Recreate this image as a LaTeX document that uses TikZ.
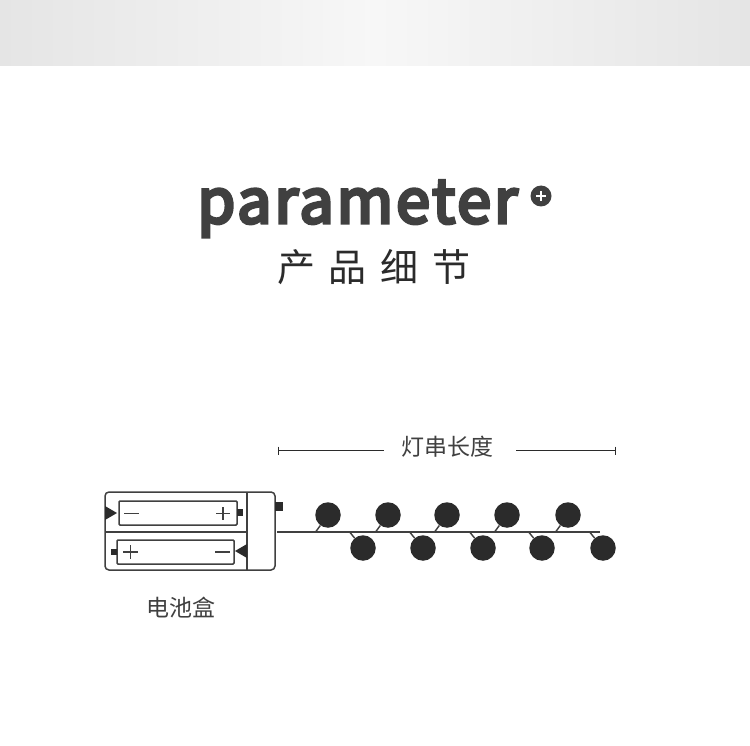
\documentclass[tikz,border=0pt]{standalone}
\usepackage{fontspec}
\usetikzlibrary{calc}
\newfontfamily\cjk{Noto Sans CJK SC}
\newfontfamily\cjkmed[FakeBold=5.5,LetterSpace=4.8]{Noto Sans CJK SC}
\definecolor{ink}{HTML}{2B2B2B}
\definecolor{txt}{HTML}{404040}
\definecolor{band}{HTML}{E5E5E5}
\definecolor{bandmid}{HTML}{F7F7F7}
\tikzset{
  bulb/.style={circle,fill=ink,draw=none,minimum size=25.5pt,inner sep=0pt},
  wire/.style={draw=ink!90,line width=1.4pt},
  boxline/.style={draw=ink!90,line width=1.5pt},
  signline/.style={draw=txt,line width=1.7pt},
  solidink/.style={fill=ink,draw=none},
  dim/.style={draw=ink,line width=1pt},
  lab/.style={text=txt,inner sep=0pt,font=\cjk\fontsize{23}{23}\selectfont}
}
\begin{document}
\begin{tikzpicture}[x=1pt,y=-1pt]
\useasboundingbox (0,0) rectangle (750,746);
\fill[white] (0,0) rectangle (750,746);
\shade[left color=band,right color=band,middle color=bandmid] (0,0) rectangle (750,66);
% title
\node[inner sep=0pt,anchor=base,text=txt] (title) at (357.5,223) {\cjkmed\fontsize{61}{61}\selectfont parameter};
\node[circle,fill=txt,minimum size=21pt,inner sep=0pt] (plusdot) at (541,196) {};
\fill[white] (536,194.8) rectangle (546,197.2);
\fill[white] (539.8,191) rectangle (542.2,201);
\node[inner sep=0pt,anchor=base,text=ink] (sub) at (374,281) {\cjk\fontsize{38}{38}\selectfont 产\hspace{14pt}品\hspace{14pt}细\hspace{14pt}节};
% dimension
\node[lab,anchor=base] (len) at (447,455) {灯串长度};
\coordinate (dl) at (278,450.5);
\coordinate (dr) at (615,450.5);
\coordinate (dli) at (384,450.5);
\coordinate (dri) at (516,450.5);
\draw[dim] (dl) -- (dli);
\draw[dim] (dri) -- (dr);
\draw[dim] (278,446.5) -- (278,454.5);
\draw[dim] (615,446.5) -- (615,454.5);
% battery box
\draw[boxline,rounded corners=4pt] (105,492) rectangle (275,570);
\draw[boxline] (247,492) -- (247,570);
\draw[boxline] (105,532) -- (247,532);
\draw[boxline,rounded corners=1pt] (119,501) rectangle (237,525);
\draw[boxline,rounded corners=1pt] (117,540) rectangle (234,564);
\fill[solidink] (237,509) rectangle (243,515.5);
\fill[solidink] (111,548.5) rectangle (117,555);
\fill[solidink] (275,502) rectangle (283,511);
\fill[solidink] (105,506) -- (117,513) -- (105,520) -- cycle;
\fill[solidink] (247,544) -- (235,551) -- (247,558) -- cycle;
\draw[signline] (124,513.5) -- (139,513.5);
\draw[signline] (216,513.5) -- (230,513.5) (223,507) -- (223,520);
\draw[signline] (123,552) -- (138,552) (130.5,545) -- (130.5,559);
\draw[signline] (215,552) -- (230,552);
\node[lab,anchor=base] (boxlab) at (181,616) {电池盒};
% string
\coordinate (w0) at (277,532);
\coordinate (w1) at (600,532);
\draw[wire] (w0) -- (w1);
\foreach \n/\x in {a/328,b/388,c/447,d/507,e/568}{
  \node[bulb] (\n) at (\x,515) {};
  \coordinate (\n s) at (\x-12.3,531.8);
  \draw[wire] (\n) -- (\n s);
}
\foreach \n/\x in {f/363,g/423,h/483,i/542,j/603}{
  \node[bulb] (\n) at (\x,548) {};
  \coordinate (\n s) at (\x-13,532.5);
  \draw[wire] (\n) -- (\n s);
}
\end{tikzpicture}
\end{document}
